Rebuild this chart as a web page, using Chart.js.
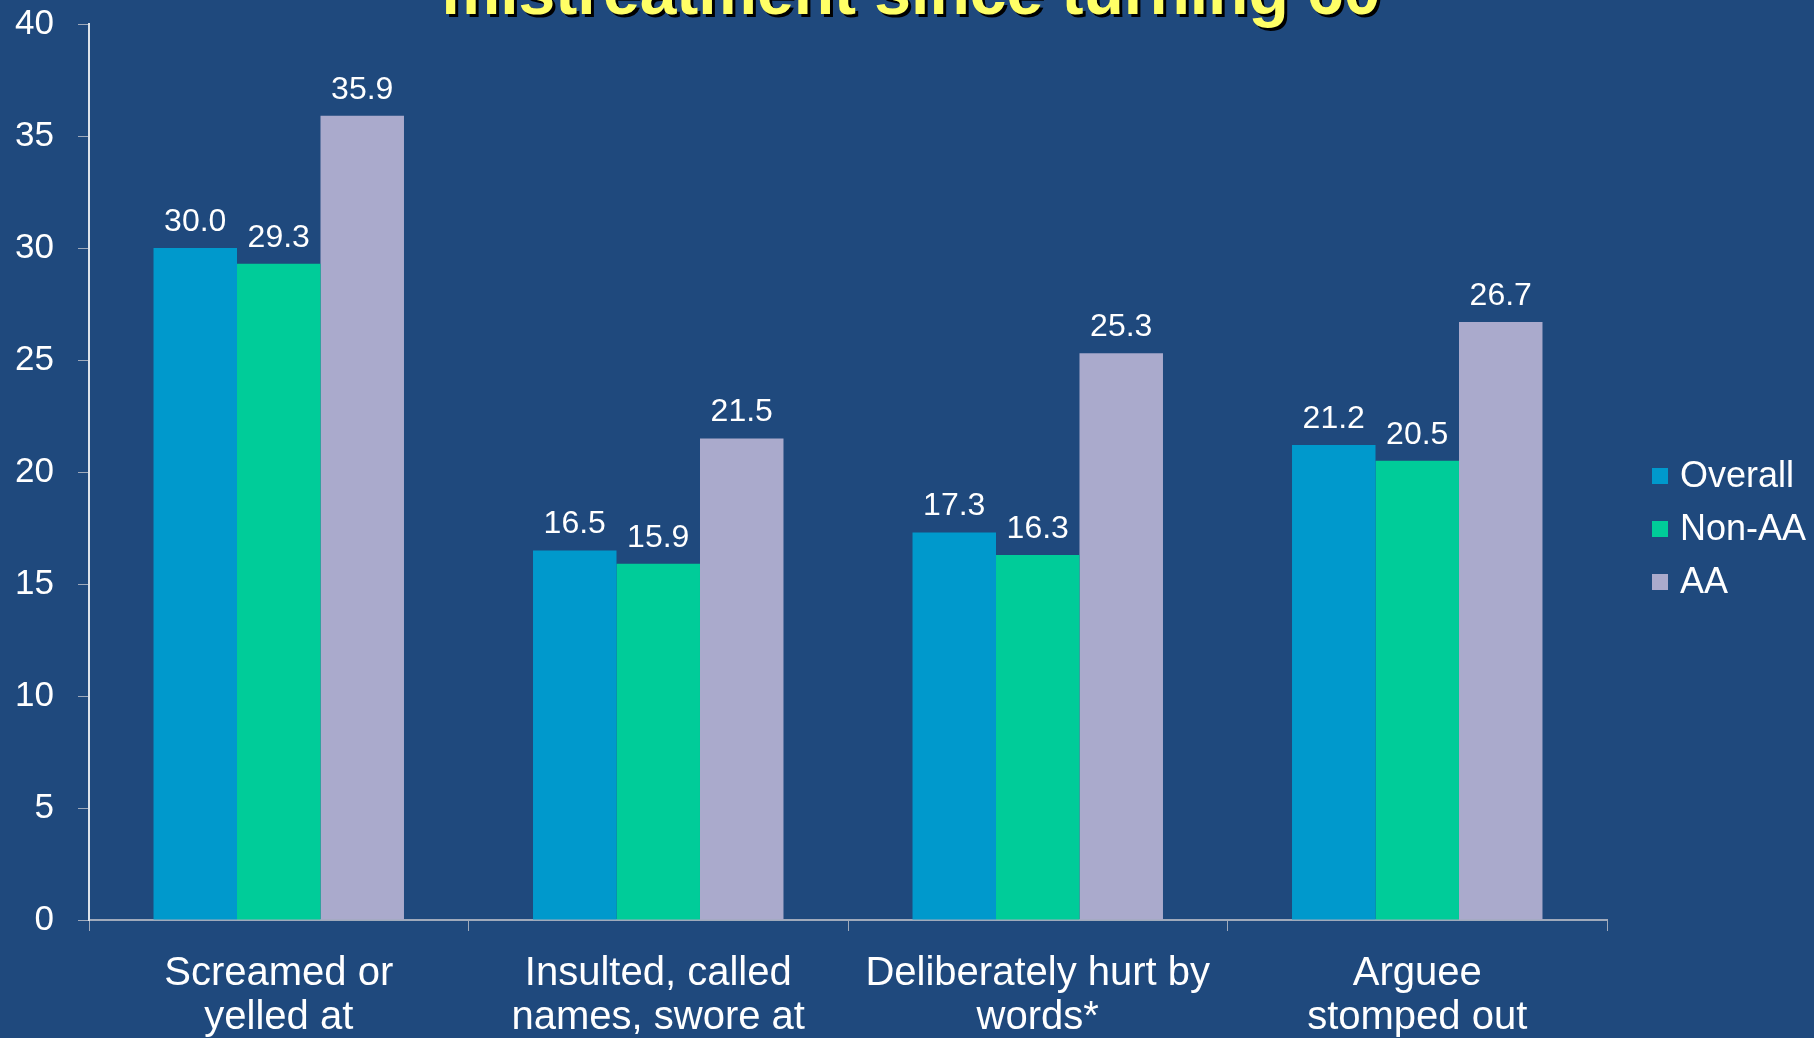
<!DOCTYPE html>
<html>
<head>
<meta charset="utf-8">
<script src="https://cdn.jsdelivr.net/npm/chart.js@4"></script>
<style>
  html, body { margin: 0; padding: 0; background: #1F497D; }
  #wrap { width: 1814px; height: 1038px; position: relative; }
</style>
</head>
<body>
<div id="wrap"><canvas id="chart"></canvas></div>
<script>
// data
const categories = [
    ['Screamed or', 'yelled at'],
    ['Insulted, called', 'names, swore at'],
    ['Deliberately hurt by', 'words*'],
    ['Arguee', 'stomped out']
];
const overall = [30.0, 16.5, 17.3, 21.2];
const nonAA = [29.3, 15.9, 16.3, 20.5];
const aa = [35.9, 21.5, 25.3, 26.7];
const yTicks = [0, 5, 10, 15, 20, 25, 30, 35, 40];
const titleText = 'mistreatment since turning 60';

const FONT = "'Liberation Sans', Arial, sans-serif";

// title (cut off at the top edge like in the slide)
const titlePlugin = {
    id: 'slideTitle',
    afterDraw(chart) {
        const ctx = chart.ctx;
        ctx.save();
        ctx.font = `bold 66px ${FONT}`;
        ctx.textAlign = 'center';
        ctx.textBaseline = 'alphabetic';
        ctx.fillStyle = '#000000';
        ctx.fillText(titleText, 914, 17);
        ctx.fillStyle = '#FFFF66';
        ctx.fillText(titleText, 911, 14);
        ctx.restore();
    }
};

// value labels on top of each bar
const valueLabels = {
    id: 'valueLabels',
    afterDatasetsDraw(chart) {
        const ctx = chart.ctx;
        ctx.save();
        ctx.font = `32px ${FONT}`;
        ctx.fillStyle = '#FFFFFF';
        ctx.textAlign = 'center';
        ctx.textBaseline = 'bottom';
        chart.data.datasets.forEach((ds, i) => {
            chart.getDatasetMeta(i).data.forEach((bar, j) => {
                ctx.fillText(ds.data[j].toFixed(1), bar.x, bar.y - 10);
            });
        });
        ctx.restore();
    }
};

// legend on the right
const sideLegend = {
    id: 'sideLegend',
    afterDraw(chart) {
        const ctx = chart.ctx;
        const x0 = chart.chartArea.right + 45;
        ctx.save();
        ctx.font = `36px ${FONT}`;
        ctx.textBaseline = 'middle';
        ctx.textAlign = 'left';
        chart.data.datasets.forEach((ds, i) => {
            const y = 476 + i * 53;
            ctx.fillStyle = ds.backgroundColor;
            ctx.fillRect(x0, y - 8, 16, 16);
            ctx.fillStyle = '#FFFFFF';
            ctx.fillText(ds.label, x0 + 28, y + 1);
        });
        ctx.restore();
    }
};

new Chart(document.getElementById('chart'), {
    type: 'bar',
    data: {
        labels: categories,
        datasets: [
            { label: 'Overall', data: overall, backgroundColor: '#0099CC' },
            { label: 'Non-AA', data: nonAA, backgroundColor: '#00CC99' },
            { label: 'AA', data: aa, backgroundColor: '#AAAACC' }
        ]
    },
    options: {
        responsive: true,
        maintainAspectRatio: false,
        animation: false,
        categoryPercentage: 0.66,
        barPercentage: 1.0,
        layout: { padding: { top: 24, right: 207, left: 0, bottom: 0 } },
        plugins: {
            legend: { display: false },
            title: { display: false },
            tooltip: { enabled: false }
        },
        scales: {
            x: {
                grid: {
                    offset: true,
                    drawOnChartArea: false,
                    drawTicks: true,
                    tickLength: 11,
                    color: '#A0AABB'
                },
                border: { color: '#A0AABB', width: 2 },
                ticks: {
                    color: '#FFFFFF',
                    font: { family: FONT, size: 40, lineHeight: 1.1 },
                    padding: 21,
                    maxRotation: 0,
                    autoSkip: false
                },
                afterFit(scale) { scale.height = 118; }
            },
            y: {
                min: 0,
                max: 40,
                afterBuildTicks(scale) { scale.ticks = yTicks.map(v => ({ value: v })); },
                grid: {
                    drawOnChartArea: false,
                    drawTicks: true,
                    tickLength: 11,
                    color: '#A0AABB'
                },
                border: { color: '#DDE3EA', width: 2 },
                ticks: {
                    color: '#FFFFFF',
                    font: { family: FONT, size: 35 },
                    padding: 24
                },
                afterFit(scale) {
                    scale.width = 89;
                    scale.paddingTop = 0;
                }
            }
        }
    },
    plugins: [valueLabels, sideLegend, titlePlugin]
});
</script>
</body>
</html>
